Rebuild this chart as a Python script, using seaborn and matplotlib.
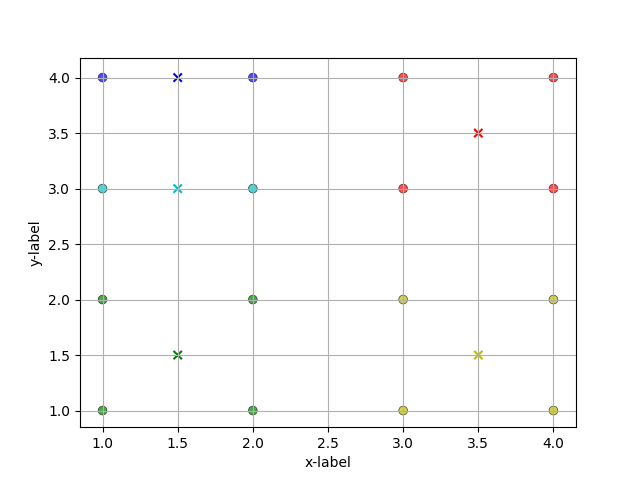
import matplotlib
matplotlib.use("Agg")
import matplotlib.pyplot as plt
import seaborn as sns
import pandas as pd

x_vals = [1, 2, 1, 2, 1, 2, 1, 2, 3, 4, 3, 4, 3, 4, 3, 4]
y_vals = [4, 4, 3, 3, 2, 2, 1, 1, 4, 4, 3, 3, 2, 2, 1, 1]
clusters = ["b", "b", "c", "c", "g", "g", "g", "g", "r", "r", "r", "r", "y", "y", "y", "y"]

cent_x = [1.5, 1.5, 1.5, 3.5, 3.5]
cent_y = [4.0, 3.0, 1.5, 3.5, 1.5]
cent_c = ["b", "c", "g", "r", "y"]

palette = {"b": "b", "c": "c", "g": "g", "r": "r", "y": "y"}

df = pd.DataFrame({"x": x_vals, "y": y_vals, "cluster": clusters})
cdf = pd.DataFrame({"x": cent_x, "y": cent_y, "cluster": cent_c})

fig, ax = plt.subplots(figsize=(6.4, 4.8), dpi=100)
sns.scatterplot(data=df, x="x", y="y", hue="cluster", palette=palette,
                edgecolor="k", alpha=0.7, s=40, legend=False, ax=ax, zorder=1)
sns.scatterplot(data=cdf, x="x", y="y", hue="cluster", palette=palette,
                marker="x", s=36, legend=False, ax=ax, zorder=1, linewidth=1.5)
ax.set_ylim(0.85, 4.18)
ax.set_xlabel("x-label")
ax.set_ylabel("y-label")
ax.grid(True)
fig.savefig("out.png")
